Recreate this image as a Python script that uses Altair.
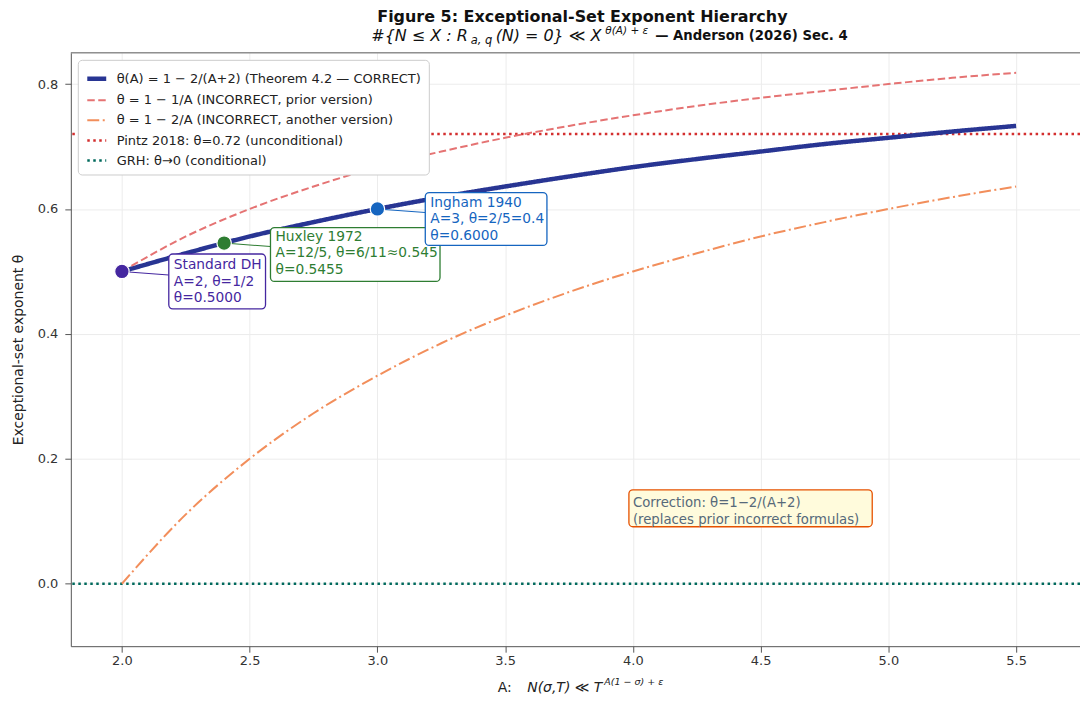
import altair as alt
import pandas as pd

# ---------------- data ----------------
A_VALUES = [2.0, 2.25, 2.5, 2.75, 3.0, 3.25, 3.5, 3.75, 4.0, 4.25, 4.5, 4.75, 5.0, 5.25, 5.5]
THETA_CORRECT = [0.500, 0.529, 0.556, 0.579, 0.600, 0.619, 0.636, 0.652, 0.667, 0.680, 0.692, 0.704, 0.714, 0.724, 0.733]
THETA_PRIOR = [0.500, 0.556, 0.600, 0.636, 0.667, 0.692, 0.714, 0.733, 0.750, 0.765, 0.778, 0.789, 0.800, 0.810, 0.818]
THETA_ANOTHER = [0.000, 0.111, 0.200, 0.273, 0.333, 0.385, 0.429, 0.467, 0.500, 0.529, 0.556, 0.579, 0.600, 0.619, 0.636]

SERIES = [
    "θ(A) = 1 − 2/(A+2) (Theorem 4.2 — CORRECT)",
    "θ = 1 − 1/A (INCORRECT, prior version)",
    "θ = 1 − 2/A (INCORRECT, another version)",
    "Pintz 2018: θ=0.72 (unconditional)",
    "GRH: θ→0 (conditional)",
]
HLINE_SERIES = [SERIES[3], SERIES[4]]
HLINE_THETA = [0.72, 0.0]

RESULT_NAMES = ["Standard DH", "Huxley 1972", "Ingham 1940"]
RESULT_A = [2.0, 2.4, 3.0]
RESULT_THETA = [0.5, 0.5455, 0.6]
RESULT_LABELS = [
    "Standard DH\nA=2, θ=1/2\nθ=0.5000",
    "Huxley 1972\nA=12/5, θ=6/11≈0.545\nθ=0.5455",
    "Ingham 1940\nA=3, θ=2/5=0.4\nθ=0.6000",
]

CORRECTION_A = [4.0]
CORRECTION_THETA = [0.12]
CORRECTION_TEXT = ["Correction: θ=1−2/(A+2)\n(replaces prior incorrect formulas)"]

X_TICKS = [2.0, 2.5, 3.0, 3.5, 4.0, 4.5, 5.0, 5.5]
Y_TICKS = [0.0, 0.2, 0.4, 0.6, 0.8]

# ---------------- styles ----------------
FONT = "DejaVu Sans"
SERIES_COLORS = ["#283593", "#e57373", "#f28e5b", "#d32f2f", "#00695c"]
SERIES_DASH = [[1, 0], [7.5, 3.5], [12, 3.5, 2, 3.5], [2.5, 3.5], [2.5, 3.5]]
SERIES_WIDTH = [4.5, 2.0, 2.0, 2.5, 2.5]
RESULT_COLORS = ["#4527a0", "#2e7d32", "#1565c0"]
# box offsets (px) relative to the marker: left, right, top, bottom
RESULT_BOX = [(47, 144, -17.5, 37.5), (46.5, 216.5, -15.5, 38.5), (48, 170, -16.5, 36.5)]

curves = pd.DataFrame({
    "A": A_VALUES * 3,
    "theta": THETA_CORRECT + THETA_PRIOR + THETA_ANOTHER,
    "series": [SERIES[0]] * len(A_VALUES) + [SERIES[1]] * len(A_VALUES) + [SERIES[2]] * len(A_VALUES),
})
hlines = pd.DataFrame({"series": HLINE_SERIES, "theta": HLINE_THETA})
dummy = pd.DataFrame({"d": [0]})

GRID = "#ececec"
AXC = "#555555"

x_enc = alt.X(
    "A:Q",
    scale=alt.Scale(domain=[1.8, 5.75], nice=False, zero=False),
    axis=alt.Axis(values=X_TICKS, format=".1f", title=None, grid=True, gridColor=GRID,
                  tickSize=6, labelPadding=2.5, labelFontSize=13, labelColor="#333",
                  domainColor=AXC, tickColor=AXC, labelFont=FONT),
)
y_enc = alt.Y(
    "theta:Q",
    scale=alt.Scale(domain=[-0.1, 0.85], nice=False, zero=False),
    axis=alt.Axis(values=Y_TICKS, format=".1f", title="Exceptional-set exponent θ", grid=True,
                  gridColor=GRID, tickSize=6, labelPadding=7, labelFontSize=13, labelColor="#333",
                  domainColor=AXC, tickColor=AXC, titleFontSize=14, titleFontWeight="normal",
                  titleColor="#222", titlePadding=12, labelFont=FONT, titleFont=FONT),
)

LEG = dict(title=None, orient="top-left", offset=7, padding=7, fillColor="white",
           strokeColor="#cccccc", cornerRadius=4, labelFontSize=13, labelColor="#222",
           labelFont=FONT, symbolType="stroke", symbolSize=361, rowPadding=2,
           labelOffset=8, labelLimit=450)
color_enc = alt.Color("series:N", scale=alt.Scale(domain=SERIES, range=SERIES_COLORS),
                      legend=alt.Legend(**LEG))
dash_enc = alt.StrokeDash("series:N", scale=alt.Scale(domain=SERIES, range=SERIES_DASH),
                          legend=alt.Legend(**LEG))
width_enc = alt.StrokeWidth("series:N",
                            scale=alt.Scale(type="ordinal", domain=SERIES, range=SERIES_WIDTH),
                            legend=alt.Legend(**LEG))

top_spine = alt.Chart(dummy).mark_rule(color=AXC, strokeWidth=1).encode(y=alt.value(0))

lines = alt.Chart(curves).mark_line(interpolate="monotone").encode(
    x=x_enc, y=y_enc, color=color_enc, strokeDash=dash_enc, strokeWidth=width_enc,
    order=alt.Order("A:Q"),
)
rules = alt.Chart(hlines).mark_rule().encode(
    y=y_enc, color=color_enc, strokeDash=dash_enc, strokeWidth=width_enc,
)

layers = [top_spine, rules, lines]

for i, name in enumerate(RESULT_NAMES):
    df = pd.DataFrame({"A": [RESULT_A[i]], "theta": [RESULT_THETA[i]], "label": [RESULT_LABELS[i]]})
    c = RESULT_COLORS[i]
    l, r, t, b = RESULT_BOX[i]
    base = alt.Chart(df)
    conn = base.mark_rule(color=c, strokeWidth=1.1, x2Offset=l, y2Offset=3.5).encode(
        x=x_enc, x2="A:Q", y=y_enc, y2="theta:Q")
    box = base.mark_rect(fill="white", stroke=c, strokeWidth=1.3, cornerRadius=4,
                         xOffset=l, x2Offset=r, yOffset=t, y2Offset=b).encode(
        x=x_enc, x2="A:Q", y=y_enc, y2="theta:Q")
    txt = base.mark_text(align="left", baseline="middle", dx=l + 5, dy=-6, lineBreak="\n",
                         lineHeight=16.5, fontSize=13.8, color=c, font=FONT).encode(
        x=x_enc, y=y_enc, text="label:N")
    pt = base.mark_circle(size=210, color=c, opacity=1, stroke="white", strokeWidth=1.2).encode(
        x=x_enc, y=y_enc)
    layers += [conn, pt, box, txt]

corr_df = pd.DataFrame({"A": CORRECTION_A, "theta": CORRECTION_THETA, "label": CORRECTION_TEXT})
corr_box = alt.Chart(corr_df).mark_rect(fill="#fffbdc", stroke="#e65100", strokeWidth=1.3,
                                        cornerRadius=4, xOffset=-4, x2Offset=240,
                                        yOffset=-19, y2Offset=18).encode(
    x=x_enc, x2="A:Q", y=y_enc, y2="theta:Q")
corr_txt = alt.Chart(corr_df).mark_text(align="left", baseline="middle", lineBreak="\n",
                                        lineHeight=17, fontSize=13.3, color="#56697a",
                                        font=FONT, dy=-6).encode(
    x=x_enc, y=y_enc, text="label:N")
layers += [corr_box, corr_txt]


def label(text, x, y, size, weight="normal", style="normal", align="left", color="#111"):
    return alt.Chart(dummy).mark_text(
        align=align, baseline="middle", fontSize=size, fontWeight=weight, fontStyle=style,
        color=color, font=FONT,
    ).encode(x=alt.value(x), y=alt.value(y), text=alt.value(text))


layers += [
    label("Figure 5: Exceptional-Set Exponent Hierarchy", 513, -35.5, 16, weight="bold", align="center"),
    label("#{N  ≤  X  :  R", 398, -16.5, 16, style="italic", align="right"),
    label("a, q", 401, -11.5, 11.5, style="italic"),
    label("(N) = 0}  ≪  X", 426, -16.5, 16, style="italic"),
    label("θ(A) + ε", 536, -22, 10.5, style="italic"),
    label("— Anderson (2026) Sec. 4", 586, -16.5, 13.3, weight="bold"),
    label("A:", 428, 637, 14, color="#222"),
    label("N(σ,T)    ≪    T", 533, 637, 14, style="italic", align="right", color="#222"),
    label("A(1 − σ) + ε", 535, 631, 9.5, style="italic", color="#222"),
]

chart = alt.layer(*layers).properties(
    width=1012, height=595,
    autosize=alt.AutoSizeParams(type="none"),
    padding={"left": 63, "top": 44, "right": 0, "bottom": 55},
).configure(font=FONT).configure_view(strokeWidth=0)

chart.save("out.html", embed_options={"renderer": "svg", "actions": False})
